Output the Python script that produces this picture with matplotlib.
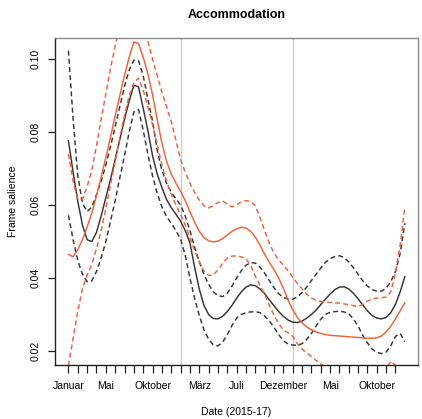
import numpy as np
import matplotlib
matplotlib.use("Agg")
import matplotlib.pyplot as plt

plt.rcParams["font.family"] = ["Liberation Sans", "DejaVu Sans"]

# Months since January 2015 (half-month steps)
months = np.arange(0, 36.5, 0.5)

# Series A (black): fitted trend with lower/upper bands
a_fit = [0.0776, 0.0690, 0.0610, 0.0545, 0.0505, 0.0500, 0.0525, 0.0570, 0.0620, 0.0670,
         0.0725, 0.0780, 0.0835, 0.0885, 0.0928, 0.0924, 0.0865, 0.0805, 0.0735, 0.0685,
         0.0648, 0.0615, 0.0593, 0.0575, 0.0556, 0.0530, 0.0497, 0.0430, 0.0370, 0.0325,
         0.0300, 0.0289, 0.0288, 0.0295, 0.0308, 0.0325, 0.0345, 0.0362, 0.0375, 0.0381,
         0.0379, 0.0370, 0.0357, 0.0340, 0.0324, 0.0308, 0.0295, 0.0285, 0.0279, 0.0278,
         0.0282, 0.0290, 0.0300, 0.0312, 0.0327, 0.0342, 0.0356, 0.0368, 0.0375, 0.0376,
         0.0370, 0.0358, 0.0343, 0.0326, 0.0310, 0.0297, 0.0290, 0.0288, 0.0292, 0.0305,
         0.0328, 0.0362, 0.0404]
a_hi = [0.1023, 0.0835, 0.0680, 0.0605, 0.0582, 0.0595, 0.0628, 0.0665, 0.0710, 0.0760,
        0.0815, 0.0870, 0.0925, 0.0970, 0.0997, 0.0996, 0.0955, 0.0890, 0.0830, 0.0750,
        0.0695, 0.0660, 0.0635, 0.0617, 0.0600, 0.0570, 0.0530, 0.0485, 0.0445, 0.0410,
        0.0383, 0.0362, 0.0352, 0.0349, 0.0358, 0.0378, 0.0400, 0.0420, 0.0435, 0.0442,
        0.0441, 0.0430, 0.0413, 0.0393, 0.0373, 0.0357, 0.0347, 0.0342, 0.0342, 0.0348,
        0.0360, 0.0375, 0.0393, 0.0410, 0.0427, 0.0443, 0.0453, 0.0459, 0.0461, 0.0456,
        0.0444, 0.0428, 0.0410, 0.0392, 0.0378, 0.0368, 0.0364, 0.0364, 0.0372, 0.0390,
        0.0418, 0.0467, 0.0550]
a_lo = [0.0572, 0.0505, 0.0448, 0.0410, 0.0390, 0.0392, 0.0418, 0.0455, 0.0500, 0.0555,
        0.0612, 0.0675, 0.0735, 0.0800, 0.0855, 0.0862, 0.0805, 0.0740, 0.0680, 0.0632,
        0.0595, 0.0568, 0.0550, 0.0530, 0.0507, 0.0462, 0.0400, 0.0345, 0.0297, 0.0258,
        0.0232, 0.0217, 0.0214, 0.0224, 0.0245, 0.0270, 0.0290, 0.0300, 0.0305, 0.0307,
        0.0308, 0.0305, 0.0296, 0.0282, 0.0265, 0.0245, 0.0228, 0.0219, 0.0216, 0.0216,
        0.0220, 0.0232, 0.0248, 0.0268, 0.0287, 0.0300, 0.0306, 0.0308, 0.0309, 0.0307,
        0.0302, 0.0288, 0.0268, 0.0243, 0.0222, 0.0205, 0.0196, 0.0193, 0.0197, 0.0215,
        0.0240, 0.0248, 0.0226]

# Series B (red): fitted trend with lower/upper bands
b_fit = [0.0465, 0.0458, 0.0478, 0.0505, 0.0540, 0.0578, 0.0625, 0.0676, 0.0730, 0.0785,
         0.0845, 0.0900, 0.0955, 0.1005, 0.1047, 0.1043, 0.1005, 0.0960, 0.0902, 0.0835,
         0.0770, 0.0720, 0.0685, 0.0660, 0.0638, 0.0612, 0.0582, 0.0553, 0.0528, 0.0511,
         0.0502, 0.0499, 0.0501, 0.0508, 0.0518, 0.0528, 0.0535, 0.0539, 0.0537, 0.0528,
         0.0512, 0.0490, 0.0465, 0.0443, 0.0423, 0.0400, 0.0372, 0.0340, 0.0313, 0.0292,
         0.0277, 0.0266, 0.0258, 0.0252, 0.0248, 0.0245, 0.0243, 0.0242, 0.0241, 0.0240,
         0.0239, 0.0238, 0.0237, 0.0236, 0.0235, 0.0235, 0.0236, 0.0241, 0.0252, 0.0268,
         0.0288, 0.0310, 0.0332]
b_hi = [0.0740, 0.0665, 0.0616, 0.0616, 0.0650, 0.0695, 0.0762, 0.0835, 0.0905, 0.0975,
        0.1035, 0.1090, 0.1128, 0.1152, 0.1160, 0.1150, 0.1110, 0.1050, 0.1000, 0.0955,
        0.0910, 0.0870, 0.0829, 0.0778, 0.0725, 0.0690, 0.0660, 0.0635, 0.0614, 0.0598,
        0.0592, 0.0598, 0.0607, 0.0611, 0.0603, 0.0595, 0.0600, 0.0609, 0.0612, 0.0610,
        0.0598, 0.0565, 0.0530, 0.0495, 0.0468, 0.0450, 0.0435, 0.0420, 0.0402, 0.0385,
        0.0370, 0.0356, 0.0345, 0.0339, 0.0336, 0.0334, 0.0333, 0.0332, 0.0331, 0.0329,
        0.0327, 0.0324, 0.0322, 0.0327, 0.0337, 0.0343, 0.0345, 0.0346, 0.0348, 0.0362,
        0.0415, 0.0490, 0.0595]
b_lo = [0.0160, 0.0235, 0.0308, 0.0372, 0.0408, 0.0437, 0.0480, 0.0530, 0.0590, 0.0655,
        0.0720, 0.0785, 0.0845, 0.0900, 0.0935, 0.0948, 0.0915, 0.0870, 0.0820, 0.0765,
        0.0710, 0.0665, 0.0630, 0.0600, 0.0575, 0.0545, 0.0510, 0.0475, 0.0445, 0.0420,
        0.0407, 0.0408, 0.0422, 0.0440, 0.0455, 0.0460, 0.0461, 0.0458, 0.0453, 0.0435,
        0.0405, 0.0380, 0.0355, 0.0325, 0.0298, 0.0275, 0.0258, 0.0250, 0.0240, 0.0220,
        0.0205, 0.0195, 0.0185, 0.0174, 0.0165, 0.0155, 0.0145, 0.0140, 0.0137, 0.0135,
        0.0134, 0.0134, 0.0135, 0.0136, 0.0138, 0.0140, 0.0142, 0.0145, 0.0148, 0.0172,
        0.0160, 0.0130, 0.0110]

tick_months = [0, 4, 9, 14, 18, 23, 28, 33]
tick_labels = ["Januar", "Mai", "Oktober", "März", "Juli", "Dezember", "Mai", "Oktober"]
year_breaks = [12, 24]
y_ticks = [0.02, 0.04, 0.06, 0.08, 0.10]

black = "#353535"
red = "#f2603a"

fig = plt.figure(figsize=(4.22, 4.19), dpi=100)
ax = fig.add_axes([0.1303, 0.1289, 0.8609, 0.7797])

for xb in year_breaks:
    ax.axvline(xb, color="#cfcfcf", lw=1.0, zorder=0)

dash = (0, (3.4, 2.2))
ax.plot(months, a_fit, color=black, lw=1.05)
ax.plot(months, a_hi, color=black, lw=1.05, linestyle=dash)
ax.plot(months, a_lo, color=black, lw=1.05, linestyle=dash)
ax.plot(months, b_fit, color=red, lw=1.05)
ax.plot(months, b_hi, color=red, lw=1.05, linestyle=dash)
ax.plot(months, b_lo, color=red, lw=1.05, linestyle=dash)

ax.set_xlim(-1.44, 37.44)
ax.set_ylim(0.01616, 0.1057)

ax.set_xticks(tick_months)
ax.set_xticklabels(tick_labels)
ax.set_xticks(np.arange(0, 36), minor=True)
ax.tick_params(axis="x", which="both", length=6, width=0.9, color="#222222",
               labelsize=7.5, pad=5.5)
ax.set_yticks(y_ticks)
ax.set_yticklabels([f"{v:.2f}" for v in y_ticks])
ax.tick_params(axis="y", length=5, width=0.9, color="#222222", labelsize=7.5, pad=5)
for lab in ax.get_yticklabels():
    lab.set_rotation(90)
    lab.set_va("center")

for side in ("left", "bottom"):
    ax.spines[side].set_color("#222222")
    ax.spines[side].set_linewidth(1.0)
for side in ("top", "right"):
    ax.spines[side].set_color("#8a8a8a")
    ax.spines[side].set_linewidth(1.0)

fig.text(0.5605, 0.964, "Accommodation", ha="center", va="center",
         fontsize=9, fontweight="bold")
fig.text(0.5605, 0.017, "Date (2015-17)", ha="center", va="center", fontsize=7.5)
fig.text(0.030, 0.5187, "Frame salience", ha="center", va="center",
         rotation=90, fontsize=7.5)

fig.savefig("out.png", dpi=100)
